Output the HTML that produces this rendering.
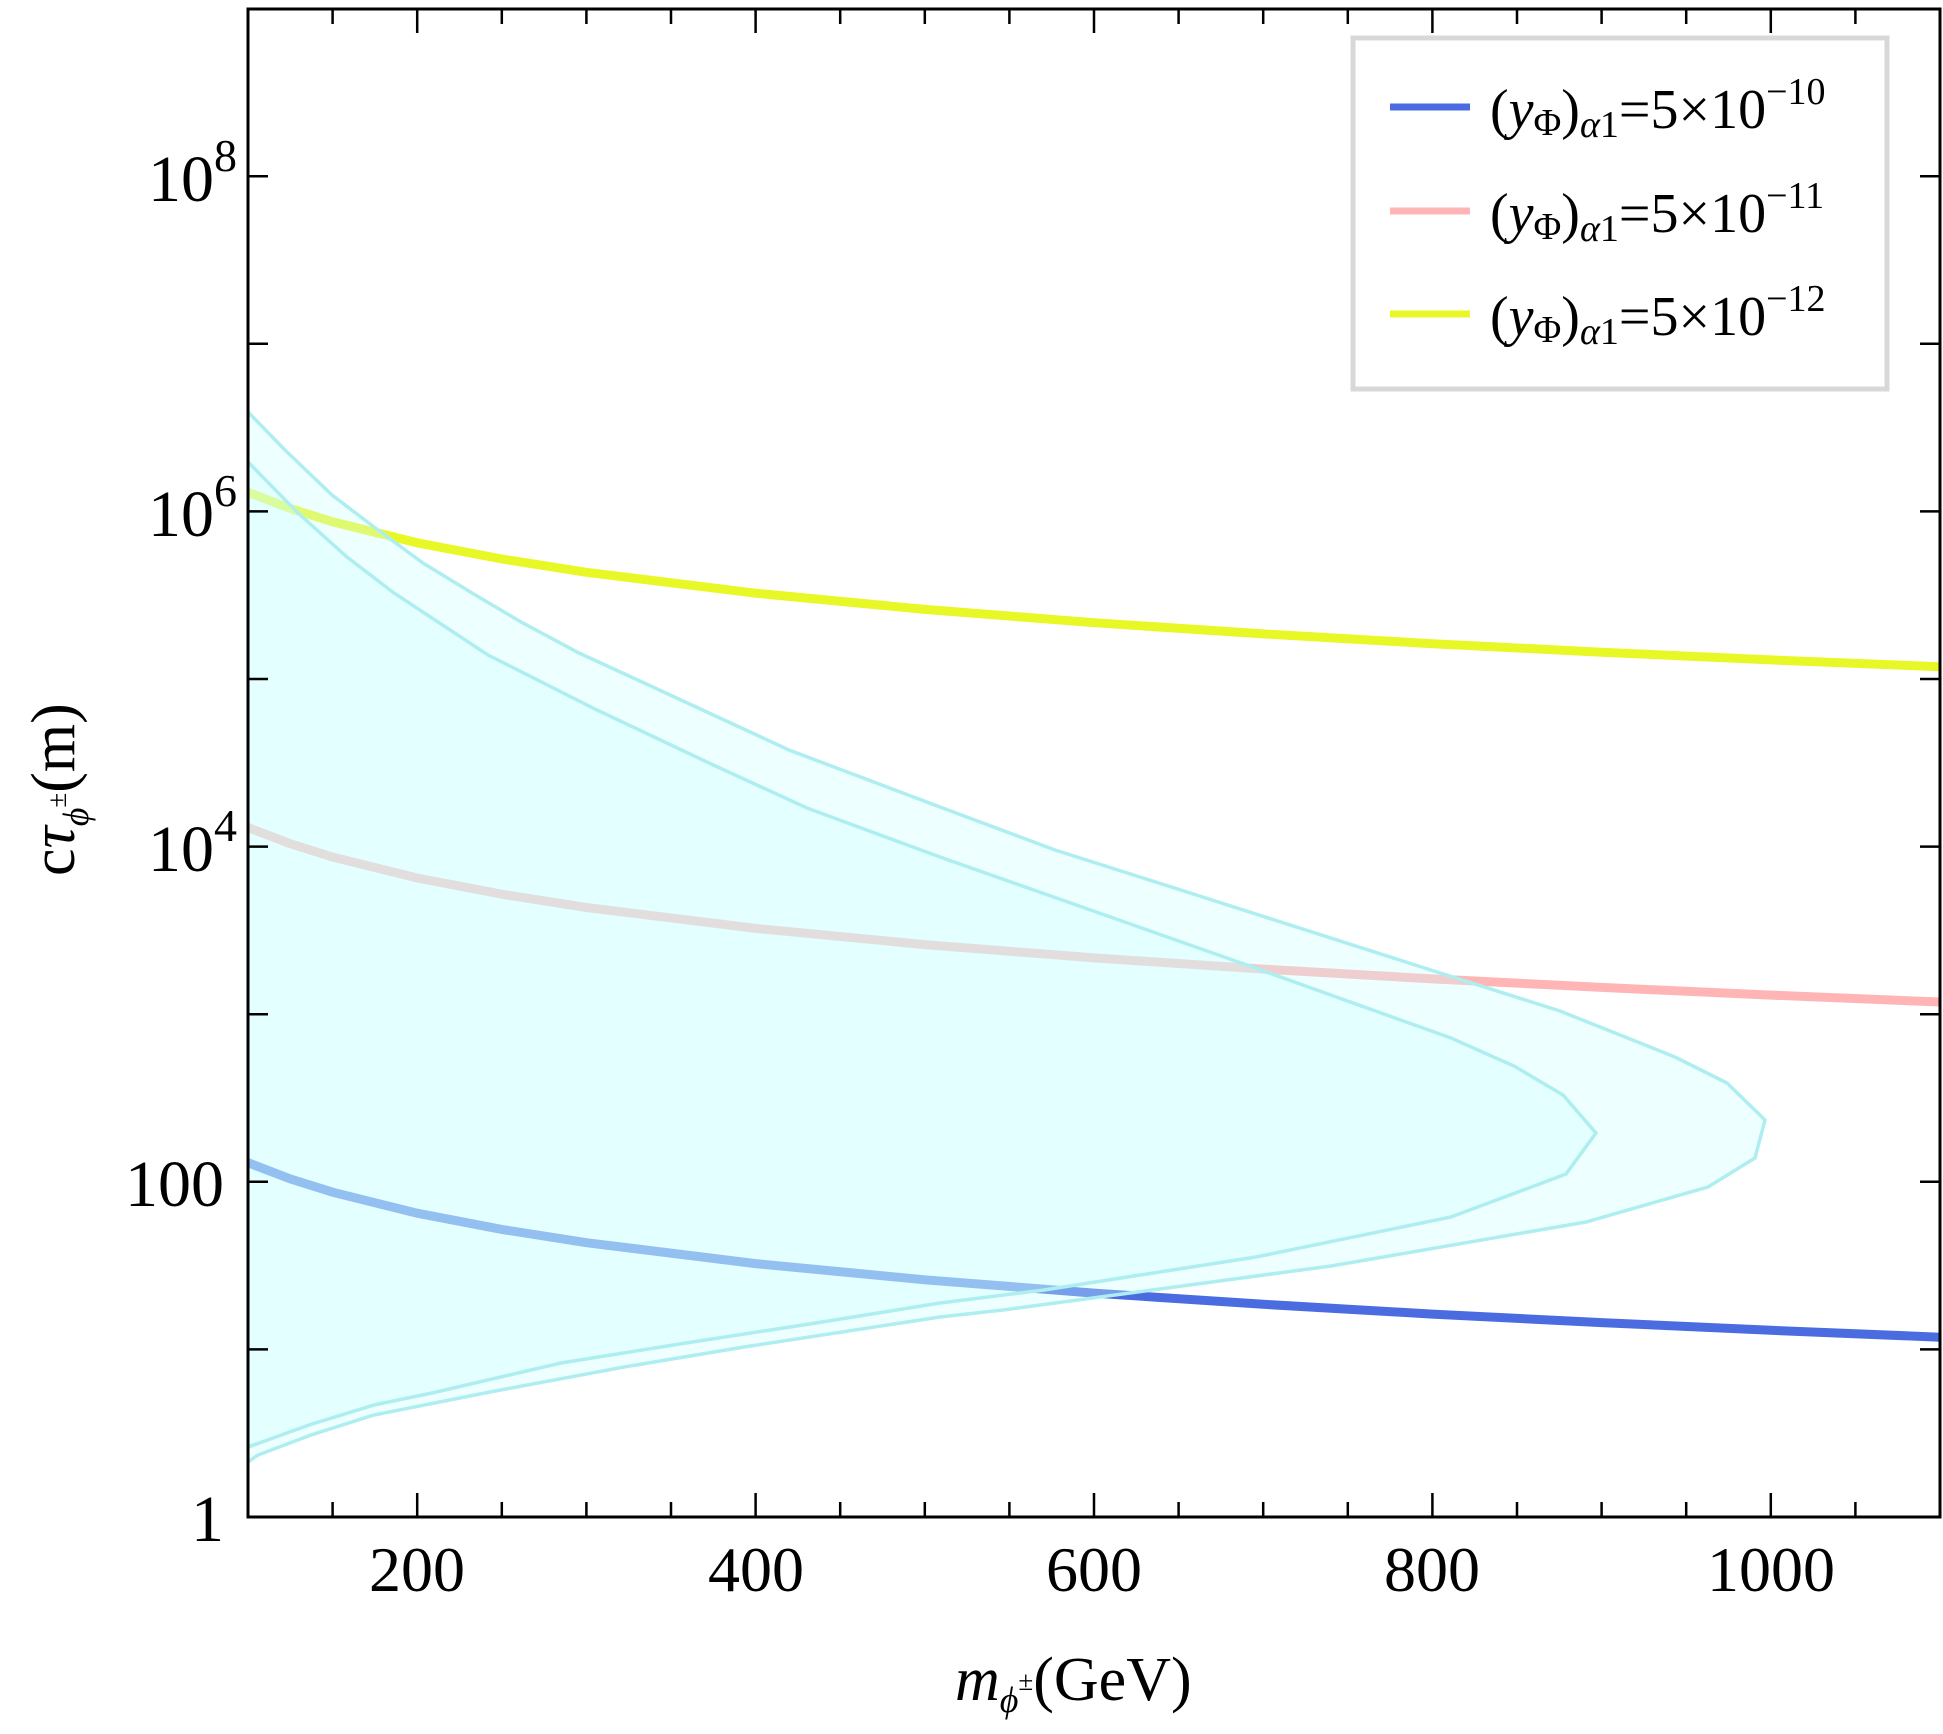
<!DOCTYPE html>
<html><head><meta charset="utf-8"><style>
html,body{margin:0;padding:0;background:#fff;}
svg{display:block;}
text{font-family:"Liberation Serif","DejaVu Serif",serif;fill:#000;}
</style></head><body>
<svg width="1943" height="1734" viewBox="0 0 1943 1734" xmlns="http://www.w3.org/2000/svg">
<defs><clipPath id="c"><rect x="248" y="9" width="1692" height="1508"/></clipPath></defs>
<g clip-path="url(#c)">
<polyline fill="none" stroke="#E8F826" stroke-width="9" points="248,492.3 290.3,508.5 332.6,521.8 417.2,542.8 501.8,559 586.4,572.3 755.6,593.2 924.8,609.4 1094,622.7 1263.2,633.9 1432.4,643.7 1601.6,652.2 1770.8,659.9 1940,666.8"/>
<polyline fill="none" stroke="#FFB5B5" stroke-width="9" points="248,827.5 290.3,843.7 332.6,857 417.2,878 501.8,894.2 586.4,907.5 755.6,928.4 924.8,944.6 1094,957.9 1263.2,969.1 1432.4,978.9 1601.6,987.4 1770.8,995.1 1940,1002"/>
<polyline fill="none" stroke="#4A6CE0" stroke-width="9" points="248,1162.7 290.3,1178.9 332.6,1192.2 417.2,1213.2 501.8,1229.4 586.4,1242.7 755.6,1263.6 924.8,1279.8 1094,1293.1 1263.2,1304.3 1432.4,1314.1 1601.6,1322.6 1770.8,1330.3 1940,1337.2"/>
<polygon fill="rgb(205,255,255)" fill-opacity="0.34" points="248,412 285,450 332,495 374,527 423,563 472,593 521,622 579,653 642,682 735,725 789,750 940,807 1055,850 1187,892 1434,971 1560,1011 1675,1057 1727,1083 1765,1120 1755,1158 1708,1187 1586,1222 1331,1266 1003,1310 940,1317 744,1347 624,1367 490,1392 374,1415 311,1435 258,1455 248,1462"/>
<polygon fill="rgb(205,255,255)" fill-opacity="0.34" points="248,462 298,513 347,557 394,593 488,655 597,710 709,763 807,808 940,857 1244,964 1451,1038 1514,1066 1563,1095 1596,1133 1566,1174 1451,1217 1256,1257 1044,1290 940,1303 816,1323 686,1343 561,1363 432,1393 374,1405 309,1425 248,1447"/>
<polyline fill="none" stroke="#AEEEF0" stroke-width="3.5" points="248,412 285,450 332,495 374,527 423,563 472,593 521,622 579,653 642,682 735,725 789,750 940,807 1055,850 1187,892 1434,971 1560,1011 1675,1057 1727,1083 1765,1120 1755,1158 1708,1187 1586,1222 1331,1266 1003,1310 940,1317 744,1347 624,1367 490,1392 374,1415 311,1435 258,1455 248,1462"/>
<polyline fill="none" stroke="#AEEEF0" stroke-width="3.5" points="248,462 298,513 347,557 394,593 488,655 597,710 709,763 807,808 940,857 1244,964 1451,1038 1514,1066 1563,1095 1596,1133 1566,1174 1451,1217 1256,1257 1044,1290 940,1303 816,1323 686,1343 561,1363 432,1393 374,1405 309,1425 248,1447"/>
</g>
<rect x="248" y="9" width="1692" height="1508" fill="none" stroke="#000" stroke-width="3"/>
<g stroke="#000" stroke-width="2.5">
<path d="M332.6,1517v-15M417.2,1517v-24M501.8,1517v-15M586.4,1517v-15M671,1517v-15M755.6,1517v-24M840.2,1517v-15M924.8,1517v-15M1009.4,1517v-15M1094,1517v-24M1178.6,1517v-15M1263.2,1517v-15M1347.8,1517v-15M1432.4,1517v-24M1517,1517v-15M1601.6,1517v-15M1686.2,1517v-15M1770.8,1517v-24M1855.4,1517v-15"/>
<path d="M332.6,9v15M417.2,9v24M501.8,9v15M586.4,9v15M671,9v15M755.6,9v24M840.2,9v15M924.8,9v15M1009.4,9v15M1094,9v24M1178.6,9v15M1263.2,9v15M1347.8,9v15M1432.4,9v24M1517,9v15M1601.6,9v15M1686.2,9v15M1770.8,9v24M1855.4,9v15"/>
<path d="M248,1349.4h20M248,1181.8h20M248,1014.2h20M248,846.6h20M248,679h20M248,511.4h20M248,343.8h20M248,176.2h20"/>
<path d="M1940,1349.4h-20M1940,1181.8h-20M1940,1014.2h-20M1940,846.6h-20M1940,679h-20M1940,511.4h-20M1940,343.8h-20M1940,176.2h-20"/>
</g>
<g font-size="64" text-anchor="middle">
<text x="417" y="1591">200</text>
<text x="756" y="1591">400</text>
<text x="1094" y="1591">600</text>
<text x="1432" y="1591">800</text>
<text x="1771" y="1591">1000</text>
</g>
<g font-size="66" text-anchor="end">
<text x="224" y="1541">1</text>
<text x="224" y="1206">100</text>
<text x="237" y="871">10<tspan font-size="46" dy="-30">4</tspan></text>
<text x="237" y="536">10<tspan font-size="46" dy="-30">6</tspan></text>
<text x="237" y="201">10<tspan font-size="46" dy="-30">8</tspan></text>
</g>
<text font-size="62" transform="translate(74,876) rotate(-90)">c<tspan font-style="italic">τ</tspan><tspan font-size="36" font-style="italic" dy="14">ϕ</tspan><tspan font-size="27" dy="-22">±</tspan><tspan dy="8">(m)</tspan></text>
<text font-size="62" x="955" y="1700"><tspan font-style="italic">m</tspan><tspan font-size="36" font-style="italic" dy="12">ϕ</tspan><tspan font-size="27" dy="-22">±</tspan><tspan dy="10">(GeV)</tspan></text>
<rect x="1353" y="38" width="534" height="351" fill="#fff" stroke="#D8D8D8" stroke-width="5"/>
<path d="M1390,107h80" stroke="#4A6CE0" stroke-width="7"/>
<path d="M1390,211h80" stroke="#FFB5B5" stroke-width="7"/>
<path d="M1390,314h80" stroke="#E8F826" stroke-width="7"/>
<g font-size="56">
<text x="1490" y="128">(<tspan font-style="italic">y</tspan><tspan font-size="38" dy="7">Φ</tspan><tspan dy="-7">)</tspan><tspan font-style="italic" font-size="38" dy="9">α</tspan><tspan font-size="38">1</tspan><tspan dy="-9">=5×10</tspan><tspan font-size="38" dy="-24">−10</tspan></text>
<text x="1490" y="232">(<tspan font-style="italic">y</tspan><tspan font-size="38" dy="7">Φ</tspan><tspan dy="-7">)</tspan><tspan font-style="italic" font-size="38" dy="9">α</tspan><tspan font-size="38">1</tspan><tspan dy="-9">=5×10</tspan><tspan font-size="38" dy="-24">−11</tspan></text>
<text x="1490" y="335">(<tspan font-style="italic">y</tspan><tspan font-size="38" dy="7">Φ</tspan><tspan dy="-7">)</tspan><tspan font-style="italic" font-size="38" dy="9">α</tspan><tspan font-size="38">1</tspan><tspan dy="-9">=5×10</tspan><tspan font-size="38" dy="-24">−12</tspan></text>
</g>
</svg>
</body></html>
